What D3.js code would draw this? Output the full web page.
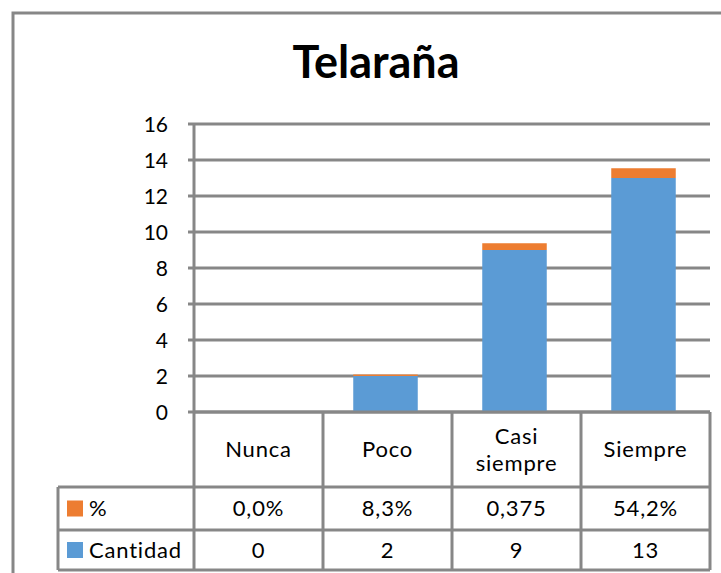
<!DOCTYPE html>
<html>
<head>
<meta charset="utf-8">
<script src="https://cdn.jsdelivr.net/npm/d3@7"></script>
<style>
  body { margin: 0; background: #fff; }
  svg text { font-family: Lato, "Open Sans", sans-serif; fill: #000; }
  .cell { font-size: 22px; letter-spacing: 0.8px; }
</style>
</head>
<body>
<div id="chart"></div>
<script>
// Data
const categories = ["Nunca", "Poco", "Casi siempre", "Siempre"];
const cantidad = [0, 2, 9, 13];
const porcentaje = [0, 0.083, 0.375, 0.542];
const porcentajeLabels = ["0,0%", "8,3%", "0,375", "54,2%"];
const cantidadLabels = ["0", "2", "9", "13"];
const yTicks = [0, 2, 4, 6, 8, 10, 12, 14, 16];
const seriesNames = ["Cantidad", "%"];
const seriesColors = ["#5B9BD5", "#ED7D31"];

// Dimensions
const width = 721;
const height = 573;
const plot = {left: 194, right: 710, top: 124, bottom: 412};
const grey = "#878787";

const svg = d3.select("#chart")
  .append("svg")
    .attr("width", width)
    .attr("height", height);

// Outer frame (only top/left visible in the crop)
svg.append("path")
  .attr("d", `M13,${height} V13 H${width}`)
  .attr("fill", "none")
  .attr("stroke", grey)
  .attr("stroke-width", 3);

// Title
svg.append("text")
  .text("Telaraña")
  .attr("x", 376)
  .attr("y", 78)
  .attr("text-anchor", "middle")
  .style("font-size", "45px")
  .style("font-weight", "bold");

// Scales
const x = d3.scaleBand()
  .domain(categories)
  .range([plot.left, plot.right])
  .paddingInner(0.5)
  .paddingOuter(0.25);
const xCell = d3.scaleBand()
  .domain(categories)
  .range([plot.left, plot.right]);
const y = d3.scaleLinear()
  .domain([0, 16])
  .range([plot.bottom, plot.top]);

// Gridlines
svg.append("g")
  .selectAll("line")
  .data(yTicks)
  .join("line")
    .attr("x1", plot.left - 6)
    .attr("x2", plot.right)
    .attr("y1", d => y(d))
    .attr("y2", d => y(d))
    .attr("stroke", grey)
    .attr("stroke-width", 3);

// y-axis line
svg.append("line")
  .attr("x1", plot.left).attr("x2", plot.left)
  .attr("y1", plot.top).attr("y2", plot.bottom)
  .attr("stroke", grey)
  .attr("stroke-width", 3);

// y tick labels
svg.append("g")
  .selectAll("text")
  .data(yTicks)
  .join("text")
    .text(d => d)
    .attr("x", 168)
    .attr("y", d => y(d))
    .attr("dy", "0.36em")
    .attr("text-anchor", "end")
    .style("font-size", "21px");

// Stacked bars
const rows = categories.map((c, i) => ({cat: c, "Cantidad": cantidad[i], "%": porcentaje[i]}));
const stackData = d3.stack().keys(seriesNames)(rows);

stackData.forEach((series, si) => {
  svg.append("g")
    .selectAll("rect")
    .data(series)
    .join("rect")
      .attr("x", d => x(d.data.cat) - 2)
      .attr("width", x.bandwidth())
      .attr("y", d => y(d[1]))
      .attr("height", d => y(d[0]) - y(d[1]))
      .attr("fill", seriesColors[si]);
});

// Data table
const tableRows = [
  {name: "%", color: seriesColors[1], labels: porcentajeLabels},
  {name: "Cantidad", color: seriesColors[0], labels: cantidadLabels}
];
const rowY = [412, 487, 530, 570];
const tableLeft = 58;
const table = svg.append("g");

// horizontal lines
table.append("line")
  .attr("x1", plot.left).attr("x2", plot.right)
  .attr("y1", rowY[0]).attr("y2", rowY[0]);
[rowY[1], rowY[2], rowY[3]].forEach(yy => {
  table.append("line")
    .attr("x1", tableLeft).attr("x2", plot.right)
    .attr("y1", yy).attr("y2", yy);
});
// vertical lines
categories.forEach(c => {
  table.append("line")
    .attr("x1", xCell(c)).attr("x2", xCell(c))
    .attr("y1", rowY[0]).attr("y2", rowY[3]);
});
table.append("line")
  .attr("x1", plot.right).attr("x2", plot.right)
  .attr("y1", rowY[0]).attr("y2", rowY[3]);
table.append("line")
  .attr("x1", tableLeft).attr("x2", tableLeft)
  .attr("y1", rowY[1]).attr("y2", rowY[3]);
table.selectAll("line")
  .attr("stroke", grey)
  .attr("stroke-width", 3);

// header (category names, wrapped)
categories.forEach(c => {
  const words = c.split(" ");
  const cx = xCell(c) + xCell.bandwidth() / 2;
  const cy = (rowY[0] + rowY[1]) / 2;
  const lh = 27;
  words.forEach((w, wi) => {
    table.append("text")
      .attr("class", "cell")
      .text(w)
      .attr("x", cx)
      .attr("y", cy + (wi - (words.length - 1) / 2) * lh)
      .attr("dy", "0.36em")
      .attr("text-anchor", "middle");
  });
});

// value rows with legend keys
tableRows.forEach((r, ri) => {
  const cy = (rowY[ri + 1] + rowY[ri + 2]) / 2;
  table.append("rect")
    .attr("x", 67).attr("y", cy - 8)
    .attr("width", 16).attr("height", 16)
    .attr("fill", r.color);
  table.append("text")
    .attr("class", "cell")
    .text(r.name)
    .attr("x", 89)
    .attr("y", cy)
    .attr("dy", "0.36em");
  r.labels.forEach((lab, i) => {
    table.append("text")
      .attr("class", "cell")
      .text(lab)
      .attr("x", xCell(categories[i]) + xCell.bandwidth() / 2)
      .attr("y", cy)
      .attr("dy", "0.36em")
      .attr("text-anchor", "middle");
  });
});
</script>
</body>
</html>
